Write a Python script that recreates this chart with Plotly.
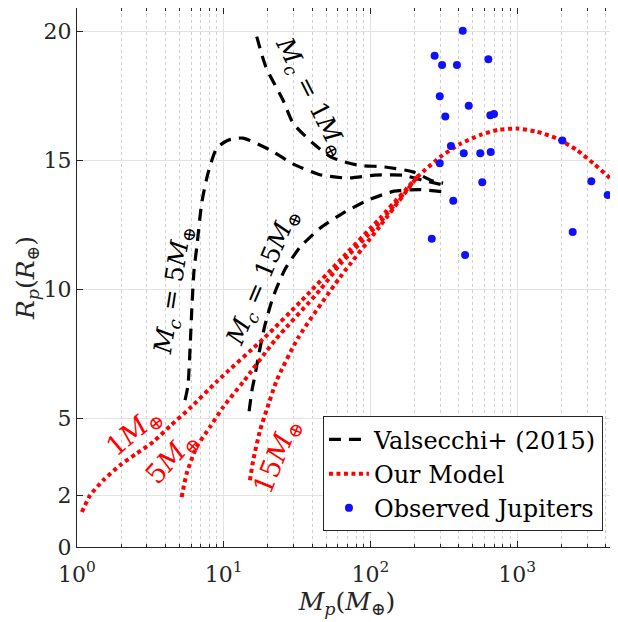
import numpy as np
import plotly.graph_objects as go

# ---------------- data ----------------
# Valsecchi+ (2015) tracks, core masses 1, 5, 15 M_earth
val1_m = [16.8, 19.4, 25.4, 29.7, 40.6, 54.5, 82.3, 126, 195, 267, 313]
val1_r = [19.81, 18.63, 17.34, 16.45, 15.67, 15.12, 14.82, 14.75, 14.56, 14.20, 14.12]
val5_m = [5.45, 5.71, 5.89, 6.08, 6.28, 6.58, 7.08, 7.82, 8.96, 10.7, 13.5, 20.7,
          29.7, 45.3, 69.3, 107, 167, 225, 313]
val5_r = [5.70, 6.28, 7.64, 9.39, 10.75, 11.72, 13.35, 14.51, 15.48, 15.79, 15.87,
          15.41, 14.87, 14.45, 14.32, 14.43, 14.43, 14.24, 14.05]
val15_m = [14.9, 15.6, 16.3, 17.4, 19.1, 21.7, 26.2, 33.1, 45.3, 65.0, 96.3, 145, 218, 308]
val15_r = [5.27, 6.09, 6.63, 7.52, 8.61, 9.70, 10.78, 11.63, 12.37, 12.96, 13.46,
           13.81, 13.87, 13.79]

# Our model: low-mass branches for each core mass, then a common high-mass part
mod1_m = [1.08, 1.23, 1.51, 1.96, 2.55, 3.31, 4.30, 5.89, 9.0, 19.1, 33.1, 62.1, 116, 208]
mod1_r = [1.36, 2.01, 2.59, 3.17, 3.63, 4.08, 4.69, 5.39, 6.43, 8.14, 9.50, 11.13, 12.76, 14.36]
mod5_m = [5.17, 5.59, 6.54, 8.07, 9.94, 13.6, 22.4, 45.3, 62.1, 116, 208]
mod5_r = [1.94, 2.85, 3.88, 4.66, 5.44, 6.41, 8.03, 9.97, 10.97, 12.6, 14.36]
mod15_m = [15.1, 15.9, 17.7, 19.6, 23.0, 32.1, 62.1, 116, 208]
mod15_r = [2.59, 3.37, 4.53, 5.31, 6.47, 8.11, 10.47, 12.45, 14.36]
modhi_m = [208, 298, 408, 559, 741, 994, 1361, 1862, 2549, 3311, 4529, 5000]
modhi_r = [14.36, 15.13, 15.64, 15.99, 16.19, 16.24, 16.12, 15.86, 15.41, 14.89, 14.20, 13.95]

# Observed Jupiters
obs_m = [426, 274, 308, 389, 637, 297, 468, 324, 657, 696, 354, 433, 561, 661, 297,
         579, 367, 262, 442, 2033, 3206, 4146, 2393]
obs_r = [20.04, 19.07, 18.71, 18.71, 18.93, 17.49, 17.13, 16.71, 16.76, 16.81, 15.56,
         15.28, 15.28, 15.33, 14.89, 14.16, 13.44, 11.96, 11.33, 15.78, 14.20, 13.66, 12.23]

x_major = [1, 10, 100, 1000]
x_major_text = ["10<sup>0</sup>", "10<sup>1</sup>", "10<sup>2</sup>", "10<sup>3</sup>"]
x_minor = [m * d for d in (1, 10, 100, 1000) for m in range(2, 10) if m * d <= 5000]
y_ticks = [0, 2, 5, 10, 15, 20]

FONT = "DejaVu Serif"
AX = "#262626"

fig = go.Figure()

dash_line = dict(color="black", width=3.2, dash="12px,8px")
for i, (m, r) in enumerate([(val1_m, val1_r), (val5_m, val5_r), (val15_m, val15_r)]):
    fig.add_trace(go.Scatter(x=m, y=r, mode="lines", line=dict(**dash_line, shape="spline", smoothing=0.6),
                             name="Valsecchi+ (2015)", showlegend=(i == 0), legendrank=1))

dot_line = dict(color="#ff0000", width=4, dash="4px,3.5px")
for i, (m, r) in enumerate([(mod1_m, mod1_r), (mod5_m, mod5_r), (mod15_m, mod15_r), (modhi_m, modhi_r)]):
    fig.add_trace(go.Scatter(x=m, y=r, mode="lines", line=dict(**dot_line, shape="spline", smoothing=0.6),
                             name="Our Model", showlegend=(i == 0), legendrank=2))

fig.add_trace(go.Scatter(x=obs_m, y=obs_r, mode="markers",
                         marker=dict(color="#1010ff", size=8, line=dict(width=0)),
                         name="Observed Jupiters", legendrank=3))

# curve labels
def lab(xv, yv, text, angle, color, size=25):
    fig.add_annotation(x=np.log10(xv), y=yv, xref="x", yref="y", text=text, textangle=angle,
                       showarrow=False, font=dict(family=FONT, size=size, color=color))

lab(10 ** 1.595, 17.46, "<i>M<sub>c</sub></i> = 1<i>M</i><sub>⊕</sub>", 63, "black")
lab(10 ** 0.661, 9.97, "<i>M<sub>c</sub></i> = 5<i>M</i><sub>⊕</sub>", -81, "black")
lab(10 ** 1.268, 10.43, "<i>M<sub>c</sub></i> = 15<i>M</i><sub>⊕</sub>", -67, "black")
lab(10 ** 0.389, 4.45, "1<i>M</i><sub>⊕</sub>", -40, "#ff0000", 27)
lab(10 ** 0.648, 3.44, "5<i>M</i><sub>⊕</sub>", -48, "#ff0000", 27)
lab(10 ** 1.370, 3.50, "15<i>M</i><sub>⊕</sub>", -68, "#ff0000", 27)

# the page has an 8px body margin, so the figure is 8px smaller than the window
fig.update_layout(
    width=610, height=614,
    margin=dict(l=69, r=1, t=0, b=75, autoexpand=False),
    paper_bgcolor="white", plot_bgcolor="white",
    font=dict(family=FONT, size=22, color=AX),
    legend=dict(x=0.974, y=0.029, xanchor="right", yanchor="bottom",
                bgcolor="white", bordercolor=AX, borderwidth=1,
                font=dict(family=FONT, size=24, color="black"),
                itemwidth=40, tracegroupgap=0),
)

fig.update_xaxes(
    type="log", range=[0, 3.681], automargin=False,
    tickmode="array", tickvals=x_major, ticktext=x_major_text,
    ticks="inside", ticklen=6, tickcolor=AX, ticklabelstandoff=7,
    showline=True, linecolor=AX, linewidth=1.3, mirror="ticks",
    showgrid=True, gridcolor="#e3e3e3", gridwidth=1,
    zeroline=False,
    minor=dict(tickmode="array", tickvals=x_minor, ticks="inside", ticklen=3, tickcolor=AX,
               showgrid=True, gridcolor="#d0d0d0", griddash="dot", gridwidth=1),
    title=dict(text="<i>M<sub>p</sub></i>(<i>M</i><sub>⊕</sub>)", font=dict(family=FONT, size=25), standoff=6),
    tickfont=dict(family=FONT, size=22, color=AX),
)
fig.update_yaxes(
    range=[0, 20.92], automargin=False,
    tickmode="array", tickvals=y_ticks,
    ticks="inside", ticklen=6, tickcolor=AX,
    showline=True, linecolor=AX, linewidth=1.3, mirror="ticks",
    showgrid=True, gridcolor="#e3e3e3", gridwidth=1,
    zeroline=False,
    title=dict(text="<i>R<sub>p</sub></i>(<i>R</i><sub>⊕</sub>)", font=dict(family=FONT, size=25), standoff=0),
    tickfont=dict(family=FONT, size=22, color=AX),
)

fig.write_html("out.html")
